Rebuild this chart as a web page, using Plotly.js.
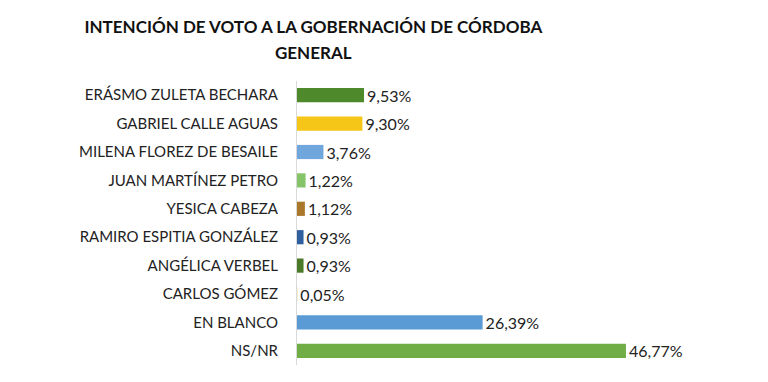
<!DOCTYPE html>
<html>
<head>
<meta charset="utf-8">
<script src="https://cdn.plot.ly/plotly-3.0.1.min.js"></script>
<style>html,body{margin:0;padding:0;background:#fff}#chart{width:768px;height:382px}</style>
</head>
<body>
<div id="chart"></div>
<script>
const categories = ["ERÁSMO ZULETA BECHARA","GABRIEL CALLE AGUAS","MILENA FLOREZ DE BESAILE","JUAN MARTÍNEZ PETRO","YESICA CABEZA","RAMIRO ESPITIA GONZÁLEZ","ANGÉLICA VERBEL","CARLOS GÓMEZ","EN BLANCO","NS/NR"];
const values = [9.53, 9.30, 3.76, 1.22, 1.12, 0.93, 0.93, 0.05, 26.39, 46.77];
const barColors = ["#4e8a2c","#f5c518","#6fa6dc","#86c46a","#a9782a","#2f5f9f","#4a7a28","#f3cf7a","#5b9bd5","#70ad47"];
const titleLine1 = "INTENCIÓN DE VOTO A LA GOBERNACIÓN DE CÓRDOBA";
const titleLine2 = "GENERAL";

const FONT = "Lato, 'Open Sans', sans-serif";

const trace = {
  type: "bar",
  orientation: "h",
  y: categories,
  x: values,
  marker: {color: barColors, line: {width: 0}},
  texttemplate: "%{x:.2f}%",
  textposition: "outside",
  constraintext: "none",
  cliponaxis: false,
  textfont: {family: FONT, size: 16, color: "#222"},
  hoverinfo: "skip"
};

const layout = {
  width: 768, height: 382,
  margin: {l: 297, r: 49, t: 81, b: 17},
  paper_bgcolor: "#fff", plot_bgcolor: "#fff",
  separators: ",.",
  showlegend: false,
  bargap: 0.5,
  title: {
    text: titleLine1,
    x: 0.408, xanchor: "center", y: 0.929, yanchor: "middle",
    font: {family: FONT, size: 17, color: "#111", weight: "bold"}
  },
  annotations: [{
    text: titleLine2, showarrow: false,
    xref: "paper", yref: "paper",
    x: (313 - 297) / 422, y: (365 - 53) / 284,
    xanchor: "center", yanchor: "middle",
    font: {family: FONT, size: 17, color: "#111", weight: "bold"}
  }],
  xaxis: {range: [0, 60], visible: false, fixedrange: true},
  yaxis: {
    autorange: "reversed",
    showline: true, linecolor: "#d9d9d9", linewidth: 1,
    showgrid: false, zeroline: false,
    ticks: "", ticklabelstandoff: 15,
    tickfont: {family: FONT, size: 15, color: "#222"},
    fixedrange: true
  }
};

Plotly.newPlot("chart", [trace], layout, {displayModeBar: false, staticPlot: true});
</script>
</body>
</html>
